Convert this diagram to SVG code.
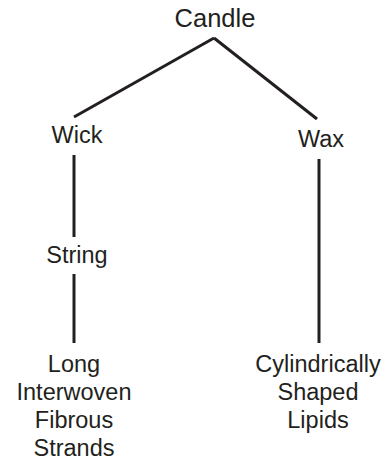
<svg xmlns="http://www.w3.org/2000/svg" width="386" height="461" viewBox="0 0 386 461">
<style>
text{font-family:"Liberation Sans",Arial,sans-serif;font-size:23.5px;fill:#231f20;text-anchor:middle}
.c line{stroke:#231f20;stroke-width:3;stroke-linecap:butt}
</style>
<rect width="386" height="461" fill="#fff"/>
<g class="c" id="connectors">
<line x1="214" y1="38" x2="74" y2="117"/>
<line x1="214" y1="38" x2="317" y2="119"/>
<line x1="74" y1="155" x2="74" y2="237"/>
<line x1="74" y1="274" x2="74" y2="343"/>
<line x1="319" y1="159" x2="319" y2="343"/>
</g>
<g id="candle"><text x="215" y="27" style="font-size:25.5px">Candle</text></g>
<g id="wick"><text x="77" y="143">Wick</text></g>
<g id="wax"><text x="321" y="147">Wax</text></g>
<g id="string"><text x="77" y="263">String</text></g>
<g id="strands"><text x="74" y="372">Long</text><text x="74" y="400">Interwoven</text><text x="74" y="428">Fibrous</text><text x="74" y="456">Strands</text></g>
<g id="lipids"><text x="318" y="372">Cylindrically</text><text x="318" y="400">Shaped</text><text x="318" y="428">Lipids</text></g>
</svg>
